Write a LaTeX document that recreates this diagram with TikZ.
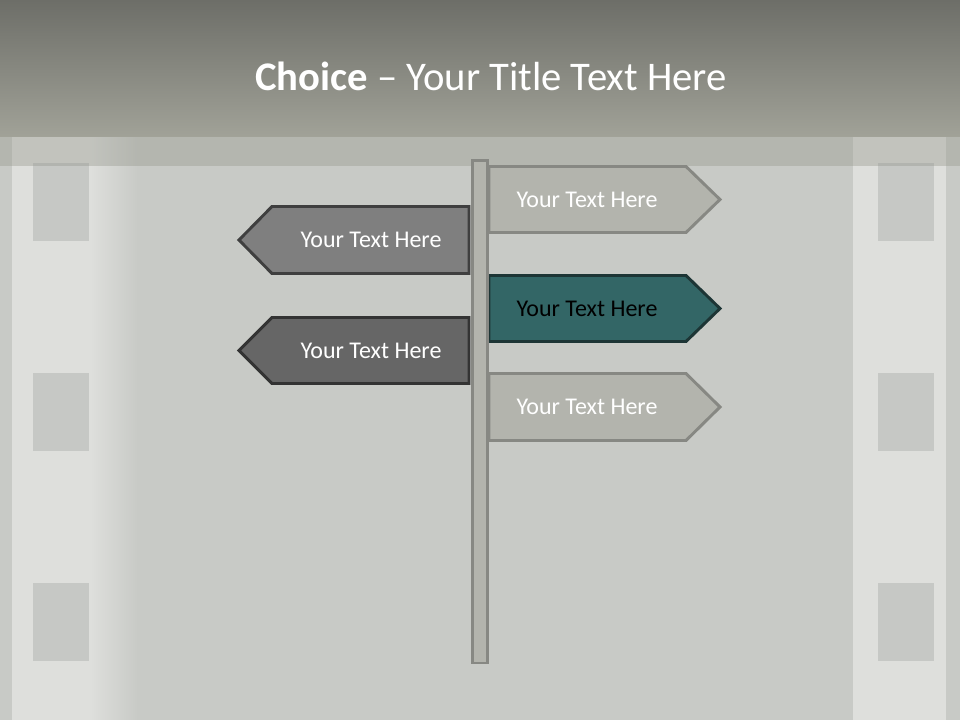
\documentclass[tikz,border=0pt]{standalone}
\usepackage{fontspec}
\setmainfont{Carlito}
\usetikzlibrary{positioning}

\definecolor{slideBg}{HTML}{C8CAC6}
\definecolor{stripLight}{HTML}{DEDFDC}
\definecolor{holeGrey}{HTML}{C6C8C5}
\definecolor{bandTop}{HTML}{6D6E68}
\definecolor{bandBottom}{HTML}{A1A298}
\definecolor{bandShadow}{HTML}{8F9186}
\definecolor{paleSign}{HTML}{B3B4AD}
\definecolor{paleEdge}{HTML}{878883}
\definecolor{greySign}{HTML}{7F7F7F}
\definecolor{greyEdge}{HTML}{3F3F3F}
\definecolor{darkSign}{HTML}{666666}
\definecolor{darkEdge}{HTML}{333333}
\definecolor{tealSign}{HTML}{336666}
\definecolor{tealEdge}{HTML}{1D3535}

\begin{document}
\begin{tikzpicture}[x=0.75pt,y=-0.75pt,
  pale sign/.style={fill=paleSign,draw=paleEdge,line width=2.2pt},
  grey sign/.style={fill=greySign,draw=greyEdge,line width=2.2pt},
  dark sign/.style={fill=darkSign,draw=darkEdge,line width=2.2pt},
  teal sign/.style={fill=tealSign,draw=tealEdge,line width=2.2pt},
  sign label/.style={font=\fontsize{18}{22}\selectfont,text=white,inner sep=0pt},
  title text/.style={font=\fontsize{30.5}{36}\selectfont,text=white,inner sep=0pt}]
\useasboundingbox (0,0) rectangle (960,720);
%background
\fill[slideBg] (0,0) rectangle (960,720);
%film strips
\fill[stripLight] (12,137) rectangle (90,720);
\shade[left color=stripLight,right color=slideBg] (90,137) rectangle (138,720);
\fill[stripLight] (853,137) rectangle (946,720);
\foreach \y in {163,373,583}{
  \fill[holeGrey] (33,\y) rectangle (89,\y+78);
  \fill[holeGrey] (878,\y) rectangle (934,\y+78);
}
%title band
\shade[top color=bandTop,bottom color=bandBottom] (0,0) rectangle (960,137);
\fill[bandShadow,fill opacity=0.35] (0,137) rectangle (960,166);
\node[title text] (title) at (491,76) {\textbf{Choice} -- Your Title Text Here};

%left signs
\draw[grey sign] (469,206.5) -- (272,206.5) -- (239,240) -- (272,273.5) -- (469,273.5) -- cycle;
\node[sign label] (left1) at (371,240) {Your Text Here};
\draw[dark sign] (469,317.5) -- (272,317.5) -- (239,350.5) -- (272,383.5) -- (469,383.5) -- cycle;
\node[sign label] (left2) at (371,350.5) {Your Text Here};

%right signs
\draw[pale sign] (489,166.5) -- (686,166.5) -- (720,199.5) -- (686,232.5) -- (489,232.5) -- cycle;
\node[sign label] (right1) at (587,199.5) {Your Text Here};
\draw[teal sign] (489,275.5) -- (686,275.5) -- (720,308.5) -- (686,341.5) -- (489,341.5) -- cycle;
\node[sign label,text=black] (right2) at (587,308.5) {Your Text Here};
\draw[pale sign] (489,373.5) -- (686,373.5) -- (720,407) -- (686,440.5) -- (489,440.5) -- cycle;
\node[sign label] (right3) at (587,407) {Your Text Here};

%post
\draw[pale sign] (472.5,160.5) rectangle (487.5,663);
\end{tikzpicture}
\end{document}
